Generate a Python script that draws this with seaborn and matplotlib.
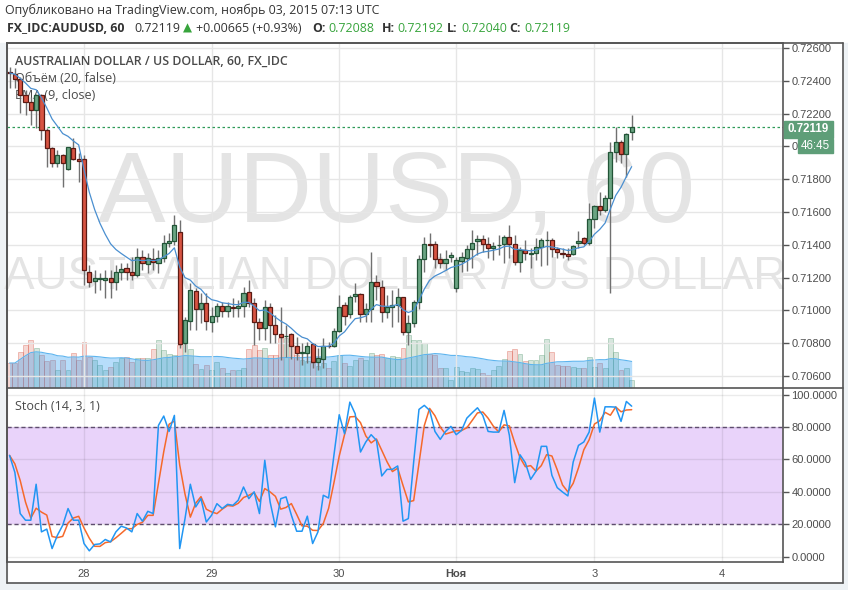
import numpy as np
import pandas as pd
import matplotlib
matplotlib.use('Agg')
import matplotlib.pyplot as plt
import seaborn as sns
from matplotlib.patches import Rectangle
from matplotlib.lines import Line2D
from matplotlib.ticker import FormatStrFormatter

# ---------------- data (hourly AUDUSD bars, Oct 27 10:00 -> Nov 3 07:00 UTC) ----------------
opens = [
    0.72452, 0.72442, 0.72409, 0.72314, 0.72273, 0.72222, 0.72314, 0.72100, 0.71988, 0.71897,
    0.71948, 0.71860, 0.71992, 0.71921, 0.71921, 0.71236, 0.71181, 0.71191, 0.71185, 0.71195,
    0.71175, 0.71232, 0.71256, 0.71236, 0.71216, 0.71327, 0.71283, 0.71313, 0.71291, 0.71317,
    0.71409, 0.71425, 0.71480, 0.70799, 0.70937, 0.71120, 0.71006, 0.71047, 0.70931, 0.70966,
    0.71029, 0.70998, 0.71023, 0.71012, 0.71027, 0.71112, 0.71047, 0.70927, 0.70890, 0.71019,
    0.70911, 0.70855, 0.70842, 0.70855, 0.70785, 0.70740, 0.70742, 0.70793, 0.70683, 0.70703,
    0.70785, 0.70785, 0.70874, 0.71033, 0.70976, 0.71090, 0.71098, 0.70976, 0.71006, 0.71175,
    0.71145, 0.70992, 0.71019, 0.71033, 0.71080, 0.70870, 0.70921, 0.71049, 0.71313, 0.71403,
    0.71403, 0.71313, 0.71287, 0.71323, 0.71134, 0.71301, 0.71317, 0.71372, 0.71423, 0.71433,
    0.71403, 0.71378, 0.71397, 0.71403, 0.71450, 0.71403, 0.71293, 0.71368, 0.71346, 0.71348,
    0.71388, 0.71427, 0.71429, 0.71374, 0.71348, 0.71342, 0.71342, 0.71409, 0.71439, 0.71409,
    0.71555, 0.71639, 0.71612, 0.71687, 0.71964, 0.72029, 0.71952, 0.72088]
highs = [
    0.72486, 0.72476, 0.72425, 0.72344, 0.72303, 0.72318, 0.72318, 0.72115, 0.71995, 0.71978,
    0.71955, 0.71998, 0.72049, 0.71957, 0.71948, 0.71277, 0.71246, 0.71226, 0.71246, 0.71246,
    0.71277, 0.71287, 0.71287, 0.71327, 0.71378, 0.71368, 0.71348, 0.71378, 0.71368, 0.71460,
    0.71470, 0.71582, 0.71551, 0.70962, 0.71165, 0.71134, 0.71104, 0.71104, 0.71023, 0.71043,
    0.71053, 0.71053, 0.71074, 0.71063, 0.71145, 0.71185, 0.71074, 0.70951, 0.71063, 0.71043,
    0.70972, 0.71023, 0.70911, 0.70860, 0.70840, 0.70799, 0.70809, 0.70799, 0.70768, 0.70829,
    0.70809, 0.70890, 0.71094, 0.71053, 0.71094, 0.71165, 0.71104, 0.71043, 0.71354, 0.71216,
    0.71185, 0.71094, 0.71124, 0.71134, 0.71084, 0.70972, 0.71063, 0.71338, 0.71450, 0.71470,
    0.71423, 0.71348, 0.71368, 0.71358, 0.71327, 0.71358, 0.71399, 0.71490, 0.71460, 0.71460,
    0.71450, 0.71419, 0.71460, 0.71460, 0.71521, 0.71460, 0.71388, 0.71429, 0.71378, 0.71439,
    0.71443, 0.71484, 0.71439, 0.71388, 0.71378, 0.71378, 0.71399, 0.71484, 0.71450, 0.71653,
    0.71643, 0.71724, 0.71704, 0.72029, 0.72120, 0.72039, 0.72080, 0.72192]
lows = [
    0.72354, 0.72354, 0.72202, 0.72192, 0.72131, 0.72110, 0.72039, 0.71876, 0.71876, 0.71876,
    0.71755, 0.71855, 0.71917, 0.71785, 0.71155, 0.71145, 0.71104, 0.71124, 0.71074, 0.71074,
    0.71124, 0.71185, 0.71185, 0.71185, 0.71206, 0.71246, 0.71226, 0.71246, 0.71226, 0.71297,
    0.71388, 0.71399, 0.70768, 0.70748, 0.70880, 0.70880, 0.70921, 0.70880, 0.70870, 0.70931,
    0.70962, 0.70962, 0.70962, 0.70962, 0.70962, 0.71023, 0.70789, 0.70819, 0.70819, 0.70799,
    0.70799, 0.70697, 0.70718, 0.70703, 0.70697, 0.70667, 0.70677, 0.70647, 0.70636, 0.70647,
    0.70768, 0.70778, 0.70870, 0.70911, 0.70951, 0.71053, 0.70931, 0.70931, 0.70931, 0.71063,
    0.70931, 0.70951, 0.70900, 0.70931, 0.70850, 0.70789, 0.70900, 0.71008, 0.71236, 0.71327,
    0.71256, 0.71256, 0.71246, 0.71297, 0.71110, 0.71236, 0.71240, 0.71256, 0.71338, 0.71358,
    0.71317, 0.71307, 0.71338, 0.71287, 0.71317, 0.71277, 0.71232, 0.71307, 0.71256, 0.71307,
    0.71273, 0.71277, 0.71327, 0.71317, 0.71317, 0.71307, 0.71338, 0.71378, 0.71399, 0.71399,
    0.71500, 0.71582, 0.71602, 0.71104, 0.71903, 0.71897, 0.71816, 0.72040]
closes = [
    0.72448, 0.72409, 0.72314, 0.72273, 0.72222, 0.72314, 0.72100, 0.71988, 0.71897, 0.71948,
    0.71897, 0.71994, 0.71921, 0.71913, 0.71246, 0.71175, 0.71195, 0.71195, 0.71195, 0.71175,
    0.71232, 0.71250, 0.71236, 0.71216, 0.71327, 0.71287, 0.71317, 0.71297, 0.71317, 0.71409,
    0.71425, 0.71521, 0.70795, 0.70941, 0.71124, 0.71006, 0.71047, 0.70937, 0.70966, 0.71029,
    0.70998, 0.71027, 0.71012, 0.71029, 0.71108, 0.71047, 0.70931, 0.70890, 0.71019, 0.70911,
    0.70855, 0.70840, 0.70846, 0.70785, 0.70738, 0.70744, 0.70785, 0.70683, 0.70707, 0.70785,
    0.70783, 0.70874, 0.71023, 0.70968, 0.71084, 0.71100, 0.70976, 0.71006, 0.71175, 0.71149,
    0.70988, 0.71019, 0.71033, 0.71080, 0.70870, 0.70921, 0.71049, 0.71313, 0.71403, 0.71399,
    0.71313, 0.71287, 0.71313, 0.71335, 0.71307, 0.71323, 0.71372, 0.71409, 0.71435, 0.71403,
    0.71378, 0.71395, 0.71401, 0.71450, 0.71403, 0.71293, 0.71368, 0.71348, 0.71350, 0.71384,
    0.71429, 0.71431, 0.71374, 0.71354, 0.71344, 0.71334, 0.71395, 0.71425, 0.71409, 0.71555,
    0.71639, 0.71612, 0.71687, 0.71964, 0.72029, 0.71952, 0.72076, 0.72119]
# relative tick volume
volume = [
    25, 25, 36, 43, 48, 40, 33, 27, 28, 18,
    28, 18, 35, 28, 46, 31, 28, 23, 18, 21,
    26, 30, 31, 26, 30, 30, 30, 39, 48, 38,
    34, 33, 43, 44, 39, 24, 19, 23, 18, 26,
    20, 15, 18, 18, 20, 39, 43, 38, 40, 33,
    33, 50, 50, 43, 33, 28, 27, 25, 22, 25,
    20, 27, 33, 25, 22, 28, 30, 28, 35, 33,
    34, 30, 32, 31, 40, 53, 48, 48, 45, 34,
    33, 20, 20, 8, 21, 17, 16, 20, 19, 15,
    13, 18, 22, 29, 37, 39, 34, 27, 28, 28,
    33, 49, 36, 23, 22, 22, 21, 20, 20, 31,
    21, 25, 20, 50, 36, 18, 20, 8]
# Stochastic %K (14, 3, 1)
stoch_k = [
    62.5, 52.0, 26.6, 22.5, 22.5, 44.7, 15.3, 17.0, 5.0, 13.2,
    19.4, 29.7, 22.5, 22.5, 8.1, 3.6, 7.5, 7.9, 10.6, 9.1,
    15.3, 18.8, 17.7, 15.3, 26.6, 21.9, 28.0, 26.6, 81.0, 86.8,
    77.3, 87.2, 5.0, 23.5, 44.7, 30.7, 35.8, 21.4, 25.6, 32.7,
    29.7, 32.3, 31.7, 34.8, 43.0, 35.8, 40.0, 26.6, 59.5, 33.8,
    18.4, 35.8, 36.9, 25.6, 15.7, 15.7, 25.0, 8.1, 15.3, 37.9,
    36.2, 62.5, 87.6, 75.9, 95.4, 88.2, 64.6, 70.8, 75.3, 71.8,
    49.8, 53.9, 53.9, 56.0, 21.9, 23.5, 58.4, 90.9, 93.4, 90.3,
    77.3, 72.4, 77.3, 80.4, 75.3, 77.9, 85.5, 88.8, 91.9, 87.2,
    77.3, 76.9, 76.9, 90.3, 74.9, 45.7, 62.9, 58.0, 47.7, 52.7,
    68.1, 68.1, 50.2, 42.6, 39.9, 37.5, 58.4, 68.7, 70.8, 76.9,
    97.9, 76.9, 92.5, 92.5, 92.3, 83.5, 95.8, 92.9]
day_ticks = [14, 38, 62, 84, 110, 134]
day_labels = ['28', '29', '30', 'Ноя', '3', '4']
price_ticks = [0.706, 0.708, 0.710, 0.712, 0.714, 0.716, 0.718, 0.720, 0.722, 0.724, 0.726]
stoch_ticks = [0, 20, 40, 60, 80, 100]
last_price = 0.72119

# ---------------- derived ----------------
df = pd.DataFrame({'o': opens, 'h': highs, 'l': lows, 'c': closes, 'v': volume, 'k': stoch_k})
df['i'] = np.arange(len(df))
df['ema'] = df['c'].ewm(span=9, adjust=False).mean()
df['vma'] = df['v'].rolling(20, min_periods=1).mean()
df['d'] = df['k'].rolling(3, min_periods=1).mean()
up = df['c'] >= df['o']

# ---------------- figure ----------------
sns.set_theme(style='white')
plt.rcParams['font.family'] = ['Liberation Sans', 'DejaVu Sans']

W, H = 848, 590
fig = plt.figure(figsize=(W / 100, H / 100), dpi=100, facecolor='white')
fx = lambda px: px / W
fy = lambda py: 1 - py / H

L_PX, R_PX = 7, 783
MAIN_TOP, MAIN_BOT = 43, 388
ST_TOP, ST_BOT = 389, 562
AXC = '#555555'
TXT = '#4d4d4d'

# margins
for (x0, y0, x1, y1) in [(0, 43, 7, 590), (0, 583, 848, 590), (843, 43, 848, 590)]:
    fig.add_artist(Rectangle((fx(x0), fy(y1)), (x1 - x0) / W, (y1 - y0) / H,
                             transform=fig.transFigure, color='#eef2f5', zorder=-5))

ax = fig.add_axes([fx(L_PX), fy(MAIN_BOT), (R_PX - L_PX) / W, (MAIN_BOT - MAIN_TOP) / H])
axv = ax.twinx()
axs = fig.add_axes([fx(L_PX), fy(ST_BOT), (R_PX - L_PX) / W, (ST_BOT - ST_TOP) / H], sharex=ax)
ax.set_zorder(2)
axv.set_zorder(1)
axs.set_zorder(1)
for a in (ax, axv, axs):
    a.patch.set_visible(False)

XMIN, XMAX = -0.48, 145.46

# watermark (behind everything)
axv.text(fx(396), fy(222), 'AUDUSD, 60', transform=fig.transFigure, fontsize=73,
         color='#e4e4e4', ha='center', va='baseline', zorder=0)
axv.text(fx(395), fy(289), 'AUSTRALIAN DOLLAR / US DOLLAR', transform=fig.transFigure,
         fontsize=33, color='#e4e4e4', ha='center', va='baseline', zorder=0)

# volume + volume MA
vol_col = np.where(up, '#6ba58345', '#d754423a')
vol_edge = np.where(up, '#6ba58378', '#d7544265')
axv.bar(df['i'], df['v'], width=0.92, color=vol_col, edgecolor=vol_edge, linewidth=0.6, zorder=1)
axv.fill_between(df['i'], 0, df['vma'], color='#2196F3', alpha=0.32, lw=0, zorder=2)
sns.lineplot(x=df['i'], y=df['vma'], ax=axv, color='#5db4ee', linewidth=0.8, zorder=3)
axv.set_ylim(0, 345)
axv.set_yticks([])
axv.set_ylabel('')
for sp in axv.spines.values():
    sp.set_visible(False)

# candles
ax.vlines(df['i'], df['l'], df['h'], color='#707070', lw=1, zorder=3)
ax.bar(df['i'], (df['c'] - df['o']).abs(), bottom=np.minimum(df['o'], df['c']), width=0.78,
       color=np.where(up, '#6ba583', '#d75442'), edgecolor=np.where(up, '#225437', '#5b1a13'),
       linewidth=0.9, zorder=4)
sns.lineplot(x=df['i'], y=df['ema'], ax=ax, color='#4a8fd0', linewidth=0.9, zorder=5)
ax.axhline(last_price, color='#2f9a58', lw=0.9, ls=(0, (2, 2)), zorder=2)

ax.set_xlim(XMIN, XMAX)
ax.set_ylim(0.726 - (MAIN_BOT - 48) / 16400, 0.726 + (48 - MAIN_TOP) / 16400)
ax.set_xticks(day_ticks)
ax.set_yticks(price_ticks)
ax.yaxis.set_major_formatter(FormatStrFormatter('%.5f'))
ax.yaxis.tick_right()
ax.grid(True, color='#e6e6e6', lw=1, zorder=0)
ax.tick_params(axis='x', bottom=False, labelbottom=False)
ax.tick_params(axis='y', right=True, left=False, direction='out', length=4, width=1, color=AXC,
               labelsize=8, labelcolor=TXT, pad=2)
ax.set_xlabel('')
ax.set_ylabel('')
for sp in ax.spines.values():
    sp.set_color(AXC)
    sp.set_linewidth(1.2)
    sp.set_visible(True)

# legend texts
leg_kw = dict(transform=fig.transFigure, family=['Open Sans', 'DejaVu Sans'], color='#4a4a4a',
              va='baseline', zorder=1)
ax.text(fx(15), fy(65), 'AUSTRALIAN DOLLAR / US DOLLAR, 60, FX_IDC', fontsize=8.95,
        fontweight='semibold', **leg_kw)
ax.text(fx(15), fy(82), 'Объём (20, false)', fontsize=9, **leg_kw)
ax.text(fx(15), fy(99), 'EMA (9, close)', fontsize=9, **leg_kw)

# stochastic pane
axs.axhspan(20, 80, color='#e9d3fa', lw=0, zorder=0)
axs.grid(True, color='black', alpha=0.08, lw=1, zorder=1)
for lvl in (20, 80):
    axs.axhline(lvl, color='#5e4d6e', lw=1, ls=(0, (3, 2)), zorder=2)
sns.lineplot(x=df['i'], y=df['k'], ax=axs, color='#2196F3', linewidth=1.1, zorder=4)
sns.lineplot(x=df['i'], y=df['d'], ax=axs, color='#f5692b', linewidth=1.1, zorder=3)
axs.set_ylim(-3.3, 103.5)
axs.set_xlim(XMIN, XMAX)
axs.set_yticks(stoch_ticks)
axs.yaxis.set_major_formatter(FormatStrFormatter('%.4f'))
axs.yaxis.tick_right()
axs.set_xticks(day_ticks)
lbls = axs.set_xticklabels(day_labels)
lbls[3].set_fontweight('bold')
axs.tick_params(axis='x', bottom=True, length=0, labelsize=8, labelcolor=TXT, pad=5)
axs.tick_params(axis='y', right=True, left=False, direction='out', length=4, width=1, color=AXC,
                labelsize=8, labelcolor=TXT, pad=2)
axs.set_xlabel('')
axs.set_ylabel('')
for name, sp in axs.spines.items():
    sp.set_color(AXC)
    sp.set_linewidth(1.2)
    sp.set_visible(name != 'top')
ax.tick_params(axis='x', labelbottom=False)
axs.text(fx(15), fy(410), 'Stoch (14, 3, 1)', transform=fig.transFigure,
         family=['Open Sans', 'DejaVu Sans'], fontsize=9, color='#4a4a4a', va='baseline', zorder=6)

# outer frame lines
def fline(x0, y0, x1, y1):
    fig.add_artist(Line2D([fx(x0), fx(x1)], [fy(y0), fy(y1)], transform=fig.transFigure,
                          color=AXC, lw=1.2, zorder=9))
fline(7, 43, 843, 43)
fline(843, 43, 843, 583)
fline(7, 583, 843, 583)
fline(7, 43, 7, 583)
fline(783, 388, 843, 388)

# last price tag + countdown
fig.add_artist(Rectangle((fx(784), fy(138)), 49 / W, 17 / H, transform=fig.transFigure,
                         color='#5e9e78', zorder=10))
fig.text(fx(808.5), fy(129.5), '0.72119', color='white', fontsize=8.3, fontweight='bold',
         ha='center', va='center', zorder=11)
fig.add_artist(Rectangle((fx(798), fy(153)), 35 / W, 14 / H, transform=fig.transFigure,
                         color='#5e9e78', zorder=10))
fig.text(fx(815.5), fy(146), '46:45', color='white', fontsize=8.3,
         ha='center', va='center', zorder=11)

# header
hf = ['Open Sans', 'DejaVu Sans']
GRN = '#37a43c'
fig.text(fx(5), fy(10), 'Опубликовано на TradingView.com, ноябрь 03, 2015 07:13 UTC',
         family=hf, fontsize=8.95, color='#333333', va='center')
y2 = fy(28)
fig.text(fx(7), y2, 'FX_IDC:AUDUSD, 60', family=hf, fontsize=8.9, fontweight='bold',
         color='#333333', va='center')
fig.text(fx(134), y2, '0.72119', family=hf, fontsize=8.9, color='#333333', va='center')
fig.text(fx(183), y2, '▲', family=['DejaVu Sans'], fontsize=8.5, color=GRN, va='center')
fig.text(fx(196), y2, '+0.00665 (+0.93%)', family=hf, fontsize=8.9, color='#333333', va='center')
for lab, val, xl, xv in [('O:', '0.72088', 312, 328), ('H:', '0.72192', 382, 397),
                         ('L:', '0.72040', 447, 461), ('C:', '0.72119', 509, 524)]:
    fig.text(fx(xl), y2, lab, family=hf, fontsize=8.9, fontweight='bold', color='#333333', va='center')
    fig.text(fx(xv), y2, val, family=hf, fontsize=8.9, color=GRN, va='center')

fig.savefig('out.png', dpi=100, facecolor='white')
